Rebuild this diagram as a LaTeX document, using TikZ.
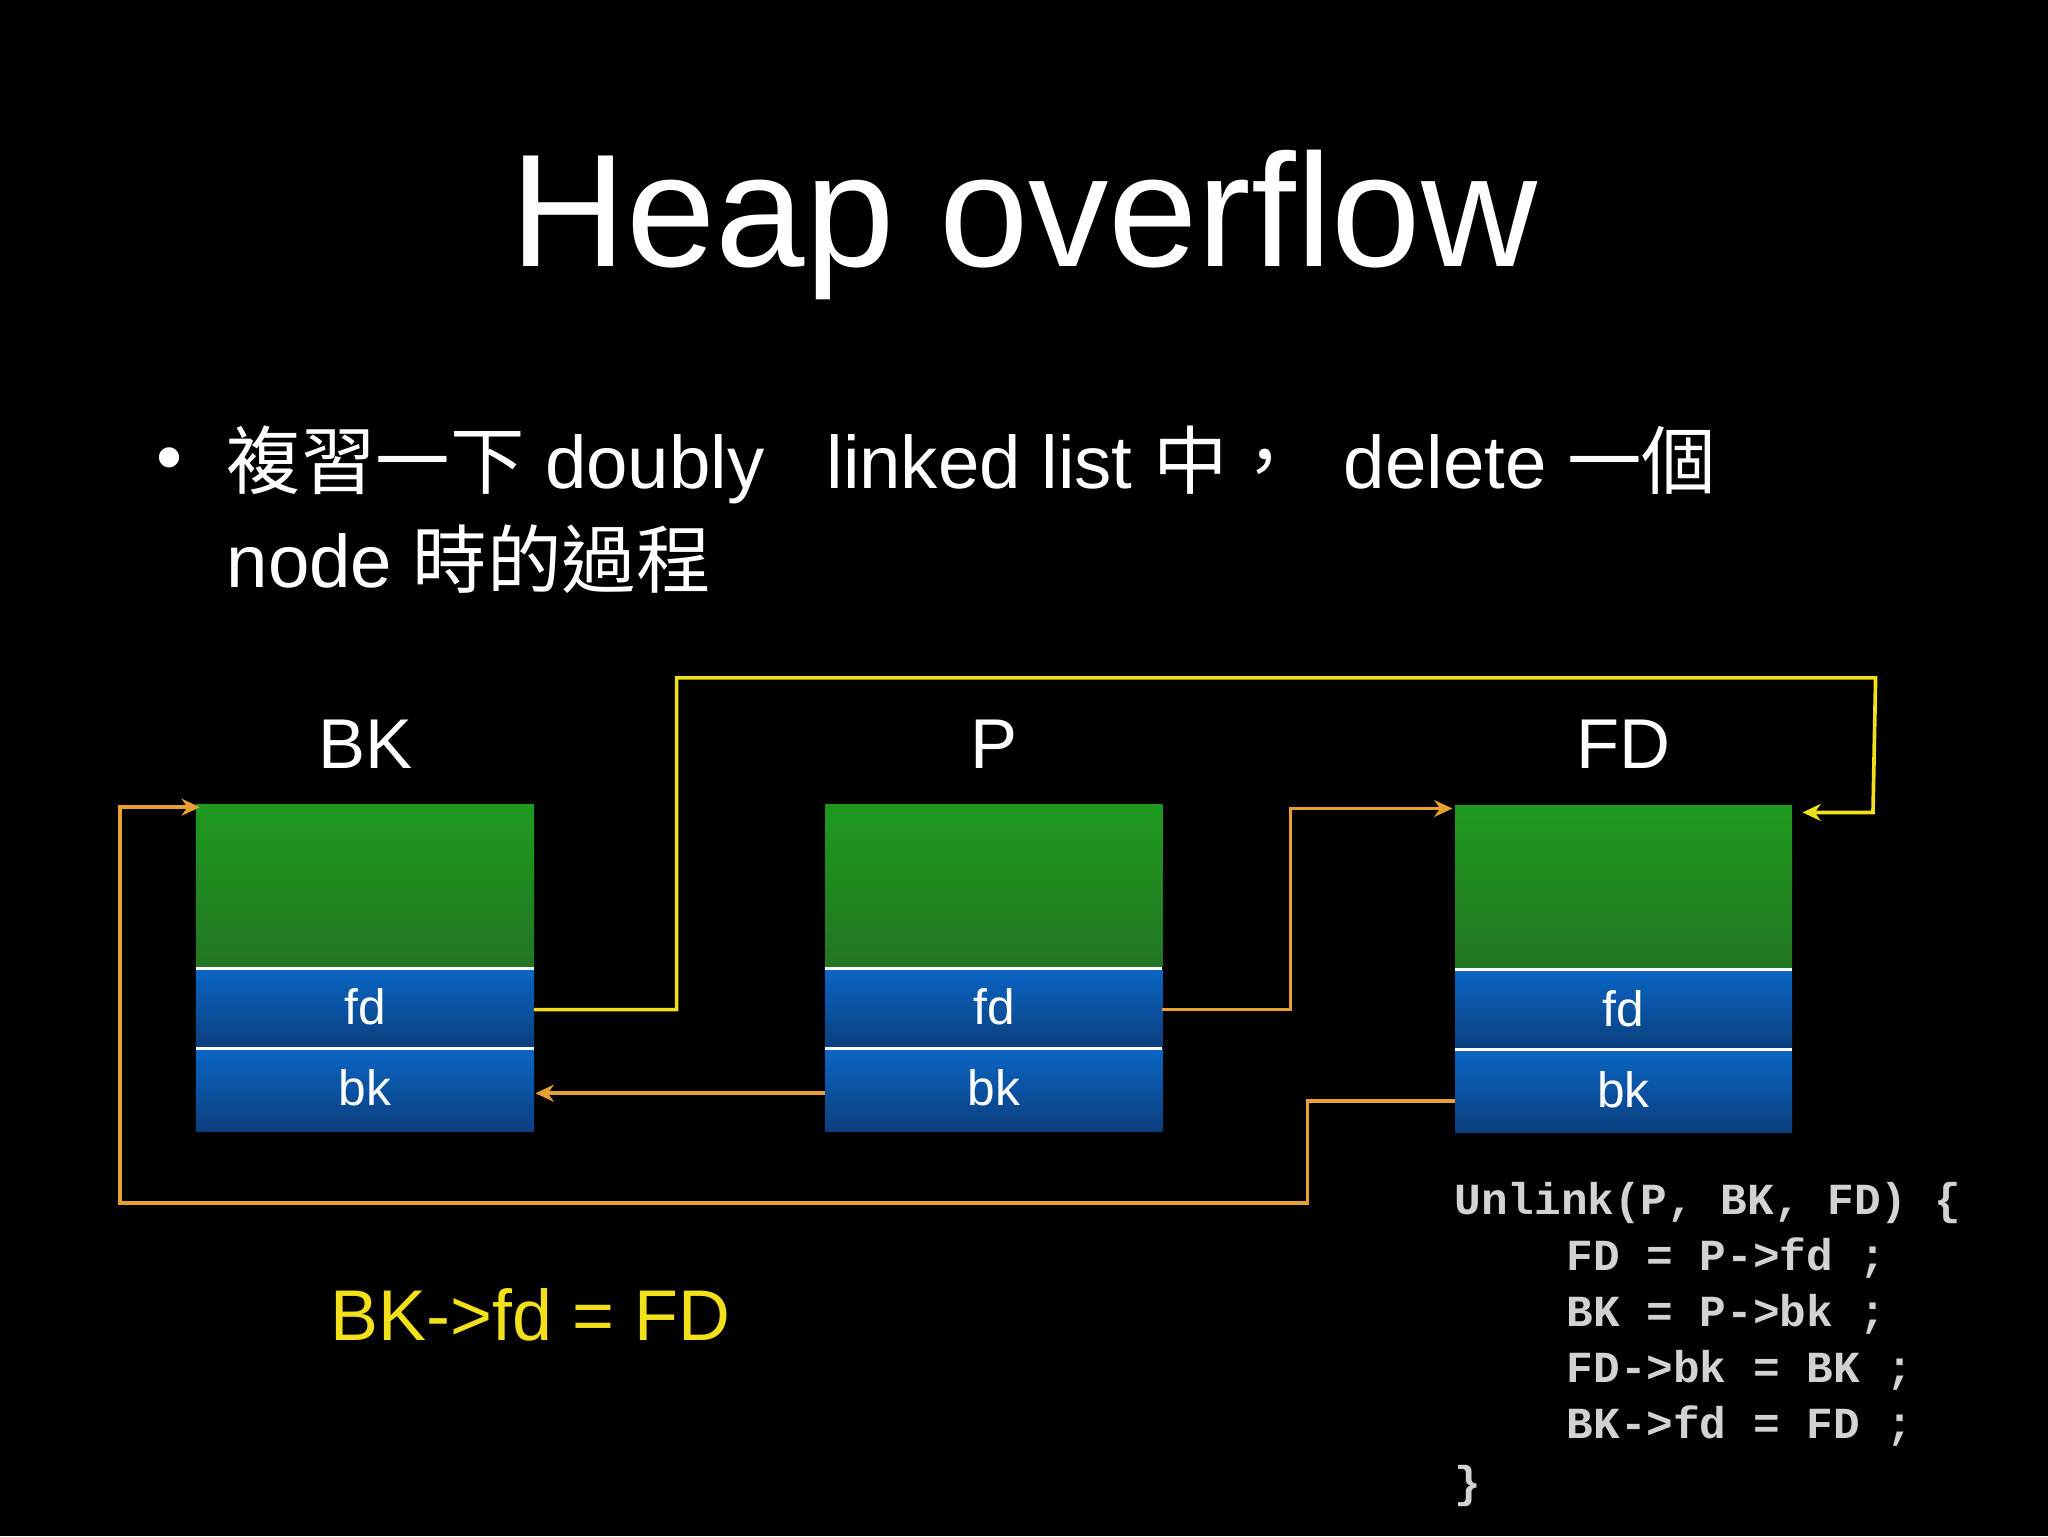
\documentclass[tikz,border=0pt]{standalone}
\usepackage{fontspec}
\setmainfont{Liberation Sans}
\newfontfamily\cjk{Noto Sans CJK TC}
\newfontfamily\codefont{Liberation Mono}
\usetikzlibrary{arrows.meta}
\definecolor{ylw}{HTML}{F2E01A}
\definecolor{org}{HTML}{E8A030}
\definecolor{gtop}{HTML}{1E9A1E}
\definecolor{gbot}{HTML}{237523}
\definecolor{btop}{HTML}{0A66C4}
\definecolor{bbot}{HTML}{0C3E7E}
\definecolor{codec}{HTML}{D2D2D2}
\tikzset{
 greenpart/.style={top color=gtop,bottom color=gbot,draw=none},
 bluepart/.style={top color=btop,bottom color=bbot,draw=none},
 sep/.style={white,line width=2.5pt},
 fieldtxt/.style={white,font=\fontsize{38}{38}\selectfont},
 lbl/.style={white,font=\fontsize{54}{54}\selectfont},
 yarr/.style={ylw,line width=2.8pt,-{Stealth[length=14pt,width=13pt]}},
 oarr/.style={org,line width=2.8pt,-{Stealth[length=14pt,width=13pt]}},
 codetxt/.style={codec,anchor=west,font=\codefont\bfseries\fontsize{34}{34}\selectfont},
 bodytxt/.style={white,anchor=west,font=\fontsize{57}{57}\selectfont},
}
\newcommand{\chunk}[4]{% name, left x, top y, width
 \fill[greenpart] (#2,#3) rectangle ++(#4,125);
 \fill[bluepart] (#2,#3+126) rectangle ++(#4,60);
 \fill[bluepart] (#2,#3+187) rectangle ++(#4,63);
 \draw[sep] (#2,#3+125.5) -- ++(#4,0);
 \draw[sep] (#2,#3+186.5) -- ++(#4,0);
 \node[fieldtxt] (#1fd) at (#2+#4/2,#3+155) {fd};
 \node[fieldtxt] (#1bk) at (#2+#4/2,#3+217) {bk};
 \coordinate (#1fdR) at (#2+#4,#3+157);
}
\begin{document}
\begin{tikzpicture}[x=1pt,y=-1pt]
\fill[black] (0,0) rectangle (1568,1176);
\useasboundingbox (0,0) rectangle (1568,1176);
\node[white,font=\fontsize{123}{123}\selectfont] (title) at (784,172) {Heap overflow};
\node[bodytxt] (bul) at (116,356) {•};
\node[bodytxt] (l1) at (170,356) {{\cjk 複習一下}\ doubly\ \ \ linked list {\cjk 中，}\ \ delete {\cjk 一個}};
\node[bodytxt] (l2) at (170,428) {node {\cjk 時的過程}};
\chunk{bkc}{150}{616}{259}
\chunk{pc}{632}{616}{258}
\chunk{fdc}{1114}{617}{258}
\node[lbl] (nBK) at (280,570) {BK};
\node[lbl] (nP) at (761,570) {P};
\node[lbl] (nFD) at (1243,570) {FD};
\coordinate (fdtarget) at (1380,622);
\draw[yarr] (bkcfdR) -- (518,773) -- (518,519) -- (1436,519) -- (1434,622) -- (fdtarget);
\coordinate (fdtop) at (1112,619);
\draw[oarr] (pcfdR) -- (988,773) -- (988,619) -- (fdtop);
\coordinate (bkbk) at (410,837);
\draw[oarr] (632,837) -- (bkbk);
\coordinate (bktop) at (153,618);
\draw[oarr] (1114,843) -- (1001,843) -- (1001,921) -- (92,921) -- (92,618) -- (bktop);
\node[ylw,font=\fontsize{55}{55}\selectfont] (eq) at (406,1007) {BK->fd = FD};
\node[codetxt] (c1) at (1110,921) {Unlink(P, BK, FD) \{};
\node[codetxt] (c2) at (1196,963) {FD = P->fd ;};
\node[codetxt] (c3) at (1196,1006) {BK = P->bk ;};
\node[codetxt] (c4) at (1196,1049) {FD->bk = BK ;};
\node[codetxt] (c5) at (1196,1092) {BK->fd = FD ;};
\node[codetxt] (c6) at (1110,1138) {\}};
\end{tikzpicture}
\end{document}
